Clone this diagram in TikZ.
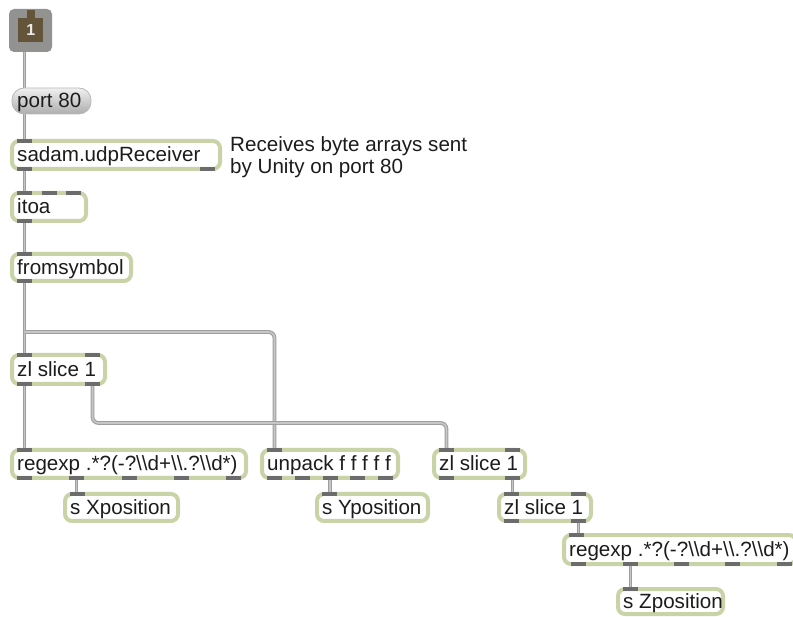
\documentclass[tikz,border=0pt]{standalone}
\usepackage{fontspec}
\setmainfont{Liberation Sans}
\usetikzlibrary{calc}
\pgfdeclarelayer{bg}
\pgfsetlayers{bg,main}

\definecolor{objgreen}{RGB}{200,211,168}
\definecolor{portc}{RGB}{108,108,108}
\definecolor{wiredark}{RGB}{158,158,158}
\definecolor{wirelight}{RGB}{198,198,198}
\definecolor{textc}{RGB}{28,28,28}
\definecolor{msggray}{RGB}{146,146,144}
\definecolor{msgbrown}{RGB}{100,85,58}

\newcommand\bsl{\textbackslash}

\tikzset{
  objbox/.style={draw=objgreen, line width=4pt, fill=white,
    rounded corners=7pt, inner sep=0pt, outer sep=0pt},
  msgbox/.style={draw=black!28, line width=0.8pt, top color=black!6,
    bottom color=black!32, rounded corners=12pt, inner sep=0pt, outer sep=0pt},
  objtext/.style={text=textc, inner sep=0pt,
    font=\fontsize{20.6}{22}\selectfont},
  wire/.style={draw=wiredark, double=wirelight, double distance=1.6pt,
    line width=1.1pt},
}

% box from outer extents: name, left, top, right, bottom, style, text
\newcommand\maxobj[7]{%
  \node[#6, minimum width={(#4)-(#2)-4}, minimum height={(#5)-(#3)-4},
        anchor=north west] (#1) at ({#2+2},{#3+2}) {};
  \node[objtext, anchor=base west] (#1-t)
        at ([xshift=5pt, yshift=-7pt]#1.west) {#7};
}
% inlet tab: node, index, offset from the outer left edge
\newcommand\inl[3]{%
  \fill[portc] ([xshift={#3pt-2pt}, yshift=2pt]#1.north west) rectangle ++(15,4);
  \coordinate (#1-i#2) at ([xshift={#3pt+5.5pt}, yshift=2pt]#1.north west);
}
% outlet tab
\newcommand\outl[3]{%
  \fill[portc] ([xshift={#3pt-2pt}, yshift=-2pt]#1.south west) rectangle ++(15,-4);
  \coordinate (#1-o#2) at ([xshift={#3pt+5.5pt}, yshift=-2pt]#1.south west);
}

\begin{document}
\begin{tikzpicture}[x=1pt, y=-1pt]
\useasboundingbox (0,0) rectangle (793,617);

% message box "1"
\node[fill=msggray, rounded corners=5pt, minimum width=43, minimum height=43,
      inner sep=0pt, outer sep=0pt, anchor=north west] (box1) at (9,9) {};
\node[fill=msgbrown, minimum width=25, minimum height=24, inner sep=0pt,
      anchor=north west, text=white!92!black, font=\bfseries\fontsize{16}{16}\selectfont]
      (box1in) at (18,18) {1};
\fill[msgbrown] ([xshift=-4pt]box1in.north) rectangle ++(8,-8);
\coordinate (box1-o1) at ([xshift=15.5pt]box1.south west);

% objects
\maxobj{port80}{10}{86}{93}{116}{msgbox}{port 80}
\coordinate (port80-i1) at ([xshift=12.5pt]port80.north west);
\coordinate (port80-o1) at ([xshift=12.5pt]port80.south west);

\maxobj{sadam}{10}{139}{222}{171}{objbox}{sadam.udpReceiver}
\maxobj{itoa}{10}{191}{88}{223}{objbox}{itoa}
\maxobj{fromsym}{10}{252}{133}{283}{objbox}{fromsymbol}
\maxobj{zlA}{10}{353}{107}{386}{objbox}{zl slice 1}
\maxobj{regexpA}{10}{448}{248}{480}{objbox}{regexp .*?(-?\bsl\bsl{}d+\bsl\bsl{}.?\bsl\bsl{}d*)}
\maxobj{unpack}{260}{448}{400}{480}{objbox}{unpack f f f f f}
\maxobj{zlB}{432}{448}{527}{480}{objbox}{zl slice 1}
\maxobj{sX}{63}{492}{180}{523}{objbox}{s Xposition}
\maxobj{sY}{315}{492}{430}{523}{objbox}{s Yposition}
\maxobj{zlC}{497}{492}{593}{523}{objbox}{zl slice 1}
\maxobj{regexpB}{562}{533}{798}{566}{objbox}{regexp .*?(-?\bsl\bsl{}d+\bsl\bsl{}.?\bsl\bsl{}d*)}
\maxobj{sZ}{616}{587}{725}{616}{objbox}{s Zposition}

% comment
\node[objtext, anchor=base west] (note1) at (230,152) {Receives byte arrays sent};
\node[objtext, anchor=base west] (note2) at (230,174) {by Unity on port 80};

% inlets and outlets
\inl{sadam}{1}{7}  \outl{sadam}{1}{7}  \outl{sadam}{2}{190}
\inl{itoa}{1}{7} \inl{itoa}{2}{32} \inl{itoa}{3}{56}  \outl{itoa}{1}{7}
\inl{fromsym}{1}{7}  \outl{fromsym}{1}{7}
\inl{zlA}{1}{7} \inl{zlA}{2}{75}  \outl{zlA}{1}{7} \outl{zlA}{2}{75}
\inl{regexpA}{1}{7}
\outl{regexpA}{1}{7} \outl{regexpA}{2}{59} \outl{regexpA}{3}{111.5}
\outl{regexpA}{4}{164} \outl{regexpA}{5}{216}
\inl{unpack}{1}{7}
\outl{unpack}{1}{7} \outl{unpack}{2}{34.75} \outl{unpack}{3}{62.5}
\outl{unpack}{4}{90.25} \outl{unpack}{5}{118}
\inl{zlB}{1}{7} \inl{zlB}{2}{73}  \outl{zlB}{1}{7} \outl{zlB}{2}{73}
\inl{sX}{1}{7}
\inl{sY}{1}{7}
\inl{zlC}{1}{7} \inl{zlC}{2}{74}  \outl{zlC}{1}{7} \outl{zlC}{2}{74}
\inl{regexpB}{1}{7}
\outl{regexpB}{1}{9} \outl{regexpB}{2}{61} \outl{regexpB}{3}{112}
\outl{regexpB}{4}{163} \outl{regexpB}{5}{215}
\inl{sZ}{1}{7}

\coordinate (split) at (fromsym-o1 |- 0,332);

% patch cords
\begin{pgfonlayer}{bg}
\draw[wire] (sadam-i1 |- box1-o1) -- (sadam-i1 |- port80-i1);
\draw[wire] (sadam-i1 |- port80-o1) -- (sadam-i1);
\draw[wire] (sadam-o1) -- (itoa-i1);
\draw[wire] (itoa-o1) -- (fromsym-i1);
\draw[wire] (fromsym-o1) -- (zlA-i1);
\draw[wire, rounded corners=6pt] (split) -| (unpack-i1);
\draw[wire] (zlA-o1) -- (regexpA-i1);
\draw[wire, rounded corners=6pt] (zlA-o2) -- ++(0,37) -| (zlB-i1);
\draw[wire] (regexpA-o2) -- (regexpA-o2 |- sX-i1);
\draw[wire] (unpack-o3) -- (unpack-o3 |- sY-i1);
\draw[wire] (zlB-o2) -- (zlB-o2 |- zlC-i1);
\draw[wire] (zlC-o2) -- (zlC-o2 |- regexpB-i1);
\draw[wire] (regexpB-o2) -- (regexpB-o2 |- sZ-i1);
\end{pgfonlayer}
\end{tikzpicture}
\end{document}
